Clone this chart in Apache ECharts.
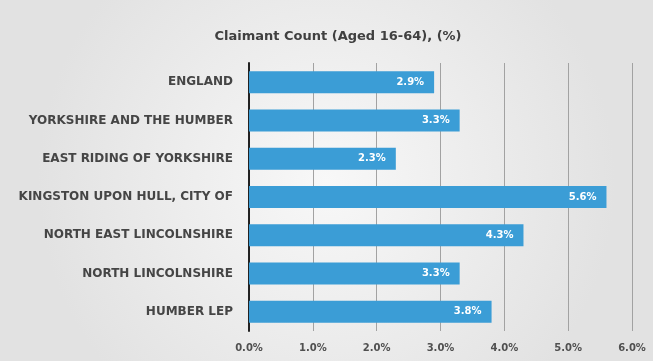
<!DOCTYPE html>
<html>
<head>
<meta charset="utf-8">
<script src="https://cdn.jsdelivr.net/npm/echarts@6/dist/echarts.min.js"></script>
<style>
  html, body { margin: 0; padding: 0; }
  #chart { width: 653px; height: 361px; }
</style>
</head>
<body>
<div id="chart"></div>
<script>
// Claimant count (aged 16-64) as a percentage, by area
const areas = [
  'ENGLAND',
  'YORKSHIRE AND THE HUMBER',
  'EAST RIDING OF YORKSHIRE',
  'KINGSTON UPON HULL, CITY OF',
  'NORTH EAST LINCOLNSHIRE',
  'NORTH LINCOLNSHIRE',
  'HUMBER LEP'
];
const claimantPct = [2.9, 3.3, 2.3, 5.6, 4.3, 3.3, 3.8];
const axisMax = 6;
const axisStep = 1;

const font = 'DejaVu Sans';

const chart = echarts.init(document.getElementById('chart'));
chart.setOption({
  backgroundColor: {
    type: 'radial', x: 0.5, y: 0.5, r: 0.8,
    colorStops: [
      { offset: 0, color: '#f8f8f8' },
      { offset: 1, color: '#e2e2e2' }
    ]
  },
  title: {
    text: 'Claimant Count (Aged 16-64), (%)',
    left: 333, top: 25, textAlign: 'center',
    textStyle: { fontFamily: font, fontSize: 13, fontWeight: 'bold', color: '#404040' }
  },
  grid: { left: 249, right: 21, top: 63, bottom: 30, containLabel: false },
  xAxis: {
    type: 'value', min: 0, max: axisMax, interval: axisStep,
    axisLine: { show: false },
    axisTick: { show: false },
    splitLine: { show: true, lineStyle: { color: '#a2a2a2', width: 1 } },
    axisLabel: {
      margin: 12,
      fontFamily: font, fontSize: 10, fontWeight: 'bold', color: '#505050',
      formatter: v => v.toFixed(1) + '%'
    }
  },
  yAxis: {
    type: 'category', inverse: true, data: areas,
    axisLine: { show: true, lineStyle: { color: '#222', width: 2 } },
    axisTick: { show: false },
    axisLabel: {
      margin: 16,
      fontFamily: font, fontSize: 12, fontWeight: 'bold', color: '#454545'
    }
  },
  series: [{
    type: 'bar',
    data: claimantPct,
    barWidth: 22,
    itemStyle: { color: '#3b9dd6' },
    label: {
      show: true, position: 'insideRight', distance: 10,
      formatter: p => p.value.toFixed(1) + '%',
      fontFamily: font, fontSize: 10, fontWeight: 'bold', color: '#ffffff'
    }
  }]
});
</script>
</body>
</html>
